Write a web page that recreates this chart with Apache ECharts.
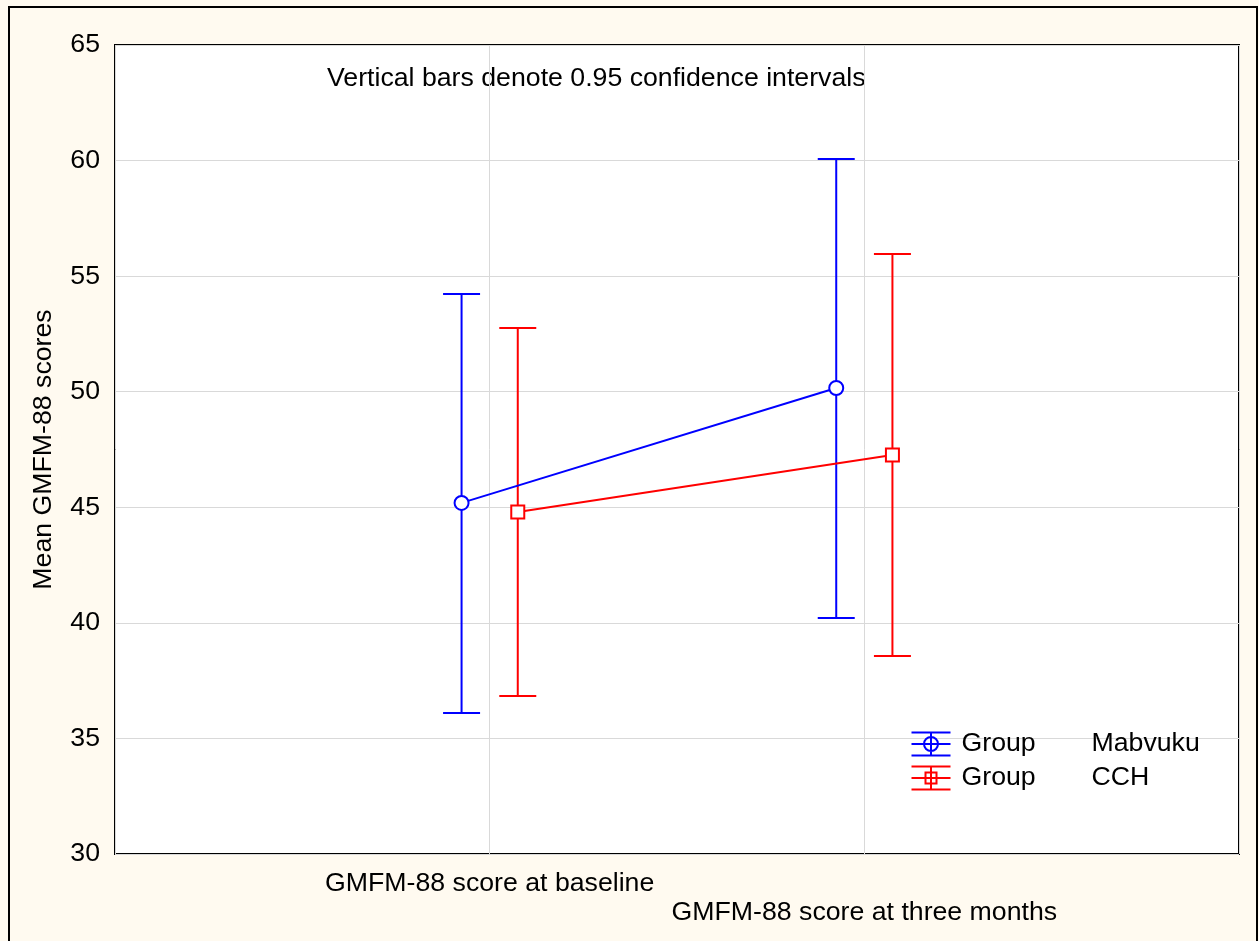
<!DOCTYPE html>
<html>
<head>
<meta charset="utf-8">
<script src="https://cdn.jsdelivr.net/npm/echarts@6/dist/echarts.min.js"></script>
<style>
  html, body { margin: 0; padding: 0; background: #fffaf0; }
  #main { width: 1259px; height: 941px; }
</style>
</head>
<body>
<div id="main"></div>
<script>
// x positions of the two time points on the value axis (0..3)
const timepoints = [1, 2];
const timepointLabels = ["GMFM-88 score at baseline", "GMFM-88 score at three months"];

const mabvukuMean = [45.19, 50.16];
const mabvukuLow = [36.10, 40.21];
const mabvukuHigh = [54.23, 60.07];

const cchMean = [44.80, 47.26];
const cchLow = [36.84, 38.57];
const cchHigh = [52.76, 55.96];

const yTicks = { min: 30, max: 65, step: 5 };

const chartDom = document.querySelector("#main");
const myChart = echarts.init(chartDom);

const FONT = "Liberation Sans, Arial, sans-serif";
const FS = 26.7;
const BLUE = "#0000ff";
const RED = "#ff0000";
const shift = 0.075;

function pts(means, dx) {
    return timepoints.map((t, i) => [t + dx, means[i]]);
}
function bars(lows, highs, dx) {
    return timepoints.map((t, i) => [t + dx, lows[i], highs[i]]);
}

function errorBar(color) {
    return (params, api) => {
        const x = api.value(0);
        const lo = api.coord([x, api.value(1)]);
        const hi = api.coord([x, api.value(2)]);
        const hw = 18.5;
        const style = { stroke: color, lineWidth: 2 };
        return {
            type: "group",
            children: [
                { type: "line", shape: { x1: lo[0], y1: lo[1], x2: hi[0], y2: hi[1] }, style },
                { type: "line", shape: { x1: hi[0] - hw, y1: hi[1], x2: hi[0] + hw, y2: hi[1] }, style },
                { type: "line", shape: { x1: lo[0] - hw, y1: lo[1], x2: lo[0] + hw, y2: lo[1] }, style }
            ]
        };
    };
}

const circleIcon = "path://M0,0H39M0,11.5H39M0,23H39M19.5,0V23M26.5,11.5A7,7,0,1,1,12.5,11.5A7,7,0,1,1,26.5,11.5";
const rectIcon = "path://M0,0H39M0,11.5H39M0,23H39M19.5,0V23M14,6H25V17H14Z";

const option = {
    backgroundColor: "#fffaf0",
    animation: false,
    textStyle: { fontFamily: FONT },
    grid: {
        left: 115, top: 45, right: 20, bottom: 87,
        show: true, backgroundColor: "#ffffff", borderColor: "#000000", borderWidth: 2
    },
    graphic: [
        {
            type: "rect",
            shape: { x: 9, y: 7, width: 1248, height: 945 },
            style: { fill: "none", stroke: "#000000", lineWidth: 2 },
            silent: true
        },
        {
            type: "text",
            left: 327, top: 65,
            style: { text: "Vertical bars denote 0.95 confidence intervals", font: FS + "px " + FONT, fill: "#000000" }
        }
    ],
    legend: {
        left: 909, top: 730,
        padding: 0,
        orient: "vertical",
        itemWidth: 39, itemHeight: 23, itemGap: 6,
        data: [
            { name: "Mabvuku", icon: circleIcon, itemStyle: { color: "none", borderColor: BLUE, borderWidth: 2 } },
            { name: "CCH", icon: rectIcon, itemStyle: { color: "none", borderColor: RED, borderWidth: 2 } }
        ],
        formatter: (name) => "{a|Group}{b|" + name + "}",
        textStyle: {
            rich: {
                a: { width: 130, padding: [0, 0, 0, 6], fontSize: FS, lineHeight: 23, fontFamily: FONT, color: "#000" },
                b: { fontSize: FS, lineHeight: 23, fontFamily: FONT, color: "#000" }
            }
        }
    },
    xAxis: {
        type: "value",
        min: 0, max: 3, interval: 1,
        axisLine: { show: false },
        axisTick: { show: false },
        splitLine: { show: true, lineStyle: { color: "#d9d9d9", width: 1 } },
        axisLabel: {
            margin: 15,
            fontSize: FS, fontFamily: FONT, color: "#000",
            lineHeight: 29,
            formatter: (v) => {
                const i = timepoints.indexOf(v);
                if (i < 0) return "";
                return i === 1 ? "\n" + timepointLabels[i] : timepointLabels[i];
            }
        }
    },
    yAxis: {
        type: "value",
        min: yTicks.min, max: yTicks.max, interval: yTicks.step,
        name: "Mean GMFM-88 scores",
        nameLocation: "middle",
        nameGap: 58,
        nameTextStyle: { fontSize: FS, fontFamily: FONT, color: "#000" },
        axisLine: { show: false },
        axisTick: { show: false },
        splitLine: { show: true, lineStyle: { color: "#d9d9d9", width: 1 } },
        axisLabel: { margin: 15, fontSize: FS, fontFamily: FONT, color: "#000" }
    },
    series: [
        {
            name: "Mabvuku-ci", type: "custom", renderItem: errorBar(BLUE),
            data: bars(mabvukuLow, mabvukuHigh, -shift), encode: { x: 0, y: [1, 2] }, z: 2
        },
        {
            name: "CCH-ci", type: "custom", renderItem: errorBar(RED),
            data: bars(cchLow, cchHigh, shift), encode: { x: 0, y: [1, 2] }, z: 2
        },
        {
            name: "Mabvuku", type: "line", data: pts(mabvukuMean, -shift),
            symbol: "emptyCircle", symbolSize: 14,
            itemStyle: { color: BLUE, borderWidth: 2 },
            lineStyle: { color: BLUE, width: 2 }, z: 3
        },
        {
            name: "CCH", type: "line", data: pts(cchMean, shift),
            symbol: "emptyRect", symbolSize: 13,
            itemStyle: { color: RED, borderWidth: 2 },
            lineStyle: { color: RED, width: 2 }, z: 3
        }
    ]
};

myChart.setOption(option);
</script>
</body>
</html>
